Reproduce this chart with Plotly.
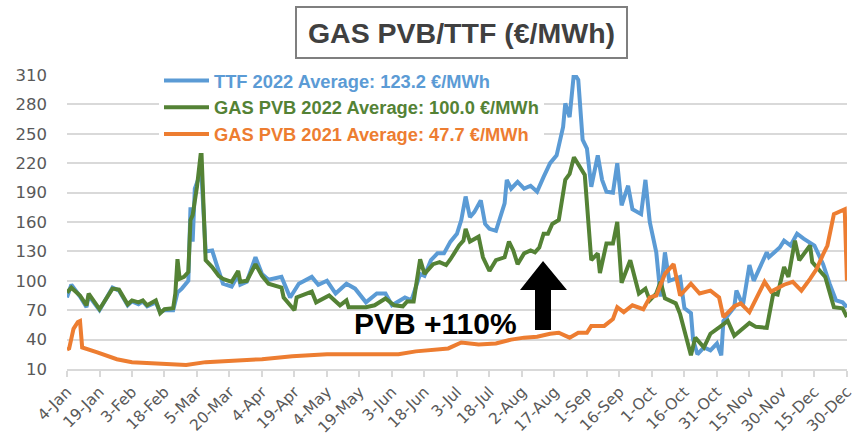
import plotly.graph_objects as go
import pandas as pd

# ---------------- data ----------------
ttf_dates = ["01-04","01-06","01-10","01-13","01-14","01-19","01-25","01-28","02-01","02-03",
             "02-06","02-08","02-10","02-14","02-16","02-18","02-22","02-24","02-26","03-01",
             "03-02","03-03","03-04","03-07","03-09","03-12","03-14","03-17","03-21","03-24",
             "03-25","03-28","04-01","04-04","04-07","04-13","04-17","04-21","04-27","04-30",
             "05-04","05-08","05-13","05-17","05-22","05-27","05-31","06-03","06-09","06-12",
             "06-16","06-18","06-21","06-24","06-27","06-30","07-03","07-05","07-07","07-09",
             "07-11","07-14","07-16","07-18","07-21","07-23","07-25","07-26","07-28","07-31",
             "08-03","08-06","08-09","08-12","08-15","08-18","08-21","08-22","08-24","08-26",
             "08-28","08-30","09-01","09-03","09-06","09-08","09-10","09-13","09-15","09-17",
             "09-20","09-22","09-26","09-28","09-30","10-03","10-05","10-07","10-09","10-14",
             "10-16","10-19","10-20","10-22","10-25","10-28","10-31","11-02","11-03","11-08",
             "11-09","11-12","11-15","11-17","11-23","11-24","11-29","12-01","12-04","12-07",
             "12-10","12-15","12-19","12-22","12-25","12-28","12-30"]
ttf_values = [83,96,84,73,85,70,93,90,75,79,
              76,79,74,78,68,70,70,88,92,100,
              175,140,194,212,130,131,117,97,94,106,
              96,99,124,107,101,104,83,97,104,96,
              100,87,97,92,78,87,87,75,83,80,
              107,105,121,128,128,140,148,162,186,165,
              170,182,158,153,151,165,179,203,194,201,
              194,197,191,206,220,228,257,281,267,312,
              305,244,235,196,228,203,191,190,220,177,
              197,173,168,203,160,129,84,129,100,104,
              72,67,40,25,32,29,36,24,59,73,
              90,75,116,100,129,124,134,141,136,148,
              143,136,117,97,80,78,73]

pvb22_dates = ["01-04","01-06","01-10","01-13","01-14","01-19","01-25","01-28","02-01","02-03",
               "02-06","02-08","02-10","02-14","02-16","02-18","02-22","02-23","02-24","02-25",
               "02-27","03-01","03-02","03-03","03-05","03-07","03-09","03-12","03-15","03-17",
               "03-21","03-24","03-25","03-28","04-01","04-04","04-07","04-13","04-14","04-19",
               "04-20","04-24","04-27","04-29","05-05","05-10","05-13","05-14","05-22","05-26",
               "05-31","06-04","06-08","06-10","06-13","06-16","06-18","06-22","06-25","06-28",
               "06-30","07-04","07-06","07-07","07-09","07-13","07-15","07-18","07-21","07-25",
               "07-27","07-29","07-31","08-03","08-06","08-08","08-10","08-12","08-14","08-16",
               "08-19","08-22","08-24","08-26","08-29","08-31","09-03","09-06","09-07","09-10",
               "09-13","09-15","09-17","09-21","09-25","09-28","09-30","10-03","10-05","10-07",
               "10-12","10-14","10-19","10-21","10-25","10-28","11-02","11-05","11-08","11-15",
               "11-18","11-23","11-26","11-28","12-01","12-03","12-06","12-08","12-13","12-14",
               "12-20","12-24","12-28","12-30"]
pvb22_values = [88,93,85,75,87,71,92,91,76,80,
                78,80,75,80,67,71,72,87,122,102,
                104,109,162,167,196,235,121,114,105,102,
                99,110,99,100,117,105,97,93,83,70,
                83,87,89,78,85,75,80,73,73,75,
                82,75,74,79,79,122,107,117,119,116,
                122,136,141,153,140,145,124,110,121,124,
                140,131,117,128,131,129,134,148,148,158,
                162,203,209,226,216,208,121,128,108,138,
                138,160,98,121,87,92,80,87,99,82,
                77,66,24,42,32,46,54,59,44,57,
                53,52,87,86,114,104,141,121,136,119,
                104,73,72,63]

pvb21_dates = ["01-04","01-05","01-07","01-09","01-10","01-11","01-18","01-24","01-27","02-03",
               "02-11","02-19","02-28","03-09","03-21","04-04","04-18","05-04","05-19","06-06",
               "06-14","06-23","06-29","07-05","07-13","07-21","07-28","08-03","08-09","08-15",
               "08-19","08-24","08-28","09-01","09-03","09-09","09-13","09-15","09-18","09-22",
               "09-27","09-30","10-03","10-07","10-11","10-14","10-19","10-23","10-28","11-01",
               "11-03","11-08","11-11","11-15","11-22","11-25","12-01","12-05","12-09","12-13",
               "12-16","12-19","12-21","12-24","12-29","12-30"]
pvb21_values = [30,31,51,58,59,32,27,23,20,17,
                16,15,14,17,18,20,23,25,25,25,
                28,30,31,37,35,36,40,42,43,46,
                47,42,47,47,54,54,61,73,68,75,
                71,83,85,107,117,85,97,87,90,83,
                63,74,77,68,99,89,96,99,90,102,
                112,127,136,168,173,100]

tick_labels = ["4-Jan","19-Jan","3-Feb","18-Feb","5-Mar","20-Mar","4-Apr","19-Apr","4-May",
               "19-May","3-Jun","18-Jun","3-Jul","18-Jul","2-Aug","17-Aug","1-Sep","16-Sep",
               "1-Oct","16-Oct","31-Oct","15-Nov","30-Nov","15-Dec","30-Dec"]

series_names = ["TTF 2022 Average: 123.2 €/MWh",
                "GAS PVB 2022 Average: 100.0 €/MWh",
                "GAS PVB 2021 Average: 47.7 €/MWh"]
series_colors = ["#5B9BD5", "#548235", "#ED7D31"]

# ---------------- figure ----------------
def to_dates(md):
    return pd.to_datetime(["2022-" + d for d in md])

tick_dates = pd.date_range("2022-01-04", "2022-12-30", freq="15D")

fig = go.Figure()
for dates, vals, name, col in [
    (ttf_dates, ttf_values, series_names[0], series_colors[0]),
    (pvb22_dates, pvb22_values, series_names[1], series_colors[1]),
    (pvb21_dates, pvb21_values, series_names[2], series_colors[2]),
]:
    fig.add_trace(go.Scatter(
        x=to_dates(dates), y=vals, mode="lines",
        name=f'<span style="color:{col}">{name}</span>',
        line=dict(color=col, width=4),
    ))

grid = "#D9D9D9"
L, R, T, B = 67, 7, 75, 68
PW, PH = 854 - L - R, 437 - T - B


def px(xp, yp):
    """pixel position on the page -> paper coordinates (for decorations only)"""
    return (xp - L) / PW, (437 - B - yp) / PH


fig.update_layout(
    width=854, height=437,
    margin=dict(l=L, r=R, t=T, b=B),
    paper_bgcolor="white", plot_bgcolor="white",
    font=dict(family="DejaVu Sans", color="#595959"),
    showlegend=True,
    legend=dict(
        x=px(159, 0)[0], y=px(0, 62)[1], xanchor="left", yanchor="top",
        bgcolor="white", borderwidth=0, itemwidth=45,
        font=dict(family="Liberation Sans", size=18.3, weight="bold"),
        traceorder="normal",
    ),
    xaxis=dict(
        type="date", automargin=False,
        range=["2022-01-04", "2022-12-30 01:00"],
        tickmode="array", tickvals=tick_dates, ticktext=tick_labels,
        tickangle=-45, ticklabeloverflow="allow",
        tickfont=dict(family="DejaVu Sans", size=15.5, color="#595959"),
        showgrid=False, showline=True, linecolor=grid, linewidth=1.5,
        ticks="outside", ticklen=6, tickcolor=grid, tickwidth=1.5,
        zeroline=False,
    ),
    yaxis=dict(
        range=[10, 310], tick0=10, dtick=30, automargin=False,
        tickfont=dict(family="DejaVu Sans", size=16.5, color="#595959"),
        showgrid=True, gridcolor=grid, gridwidth=1.5,
        zeroline=False, showline=False, ticks="",
        ticklabelstandoff=19,
    ),
)

# title box
tx, ty = px(461.5, 32.5)
fig.add_annotation(
    text="GAS PVB/TTF (€/MWh)", xref="paper", yref="paper",
    x=tx, y=ty, xanchor="center", yanchor="middle", showarrow=False,
    font=dict(family="Liberation Sans", size=28.5, color="#404040", weight="bold"),
    bordercolor="#7F7F7F", borderwidth=2, width=327, height=47, bgcolor="white",
)

# PVB +110% label
lx, ly = px(435, 323)
fig.add_annotation(
    text="PVB +110%", xref="paper", yref="paper",
    x=lx, y=ly, xanchor="center", yanchor="middle", showarrow=False,
    font=dict(family="Liberation Sans", size=30, color="black", weight="bold"),
)

# block arrow (decoration)
arrow_px = [(535, 330), (551, 330), (551, 290), (567, 290), (543, 261), (520, 290), (535, 290)]
pts = [px(a, b) for a, b in arrow_px]
path = "M " + " L ".join(f"{a:.4f} {b:.4f}" for a, b in pts) + " Z"
fig.add_shape(type="path", xref="paper", yref="paper", path=path,
              fillcolor="black", line=dict(width=0))

fig.write_html("out.html",
               config={"displayModeBar": False},
               post_script="document.body.style.margin='0';document.body.style.padding='0';")
